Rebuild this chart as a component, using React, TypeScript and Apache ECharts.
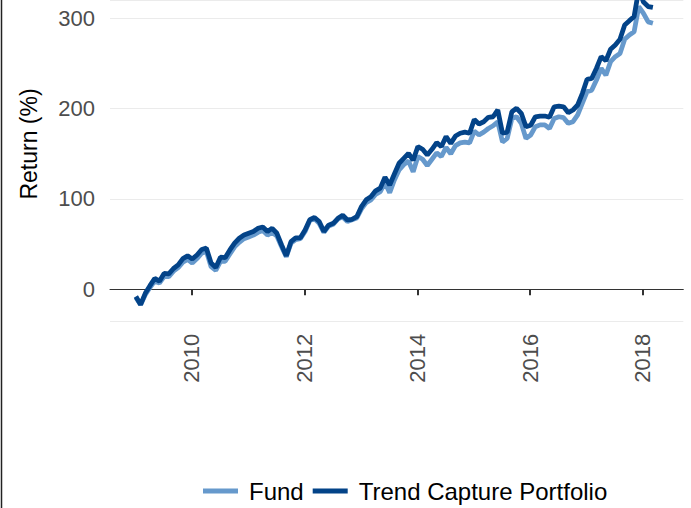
import React, { useEffect, useRef } from "react";
import * as echarts from "echarts";

const startYear = 2009.01;
const seriesNames = ["Fund", "Trend Capture Portfolio"];
const yearTicks = [2010, 2012, 2014, 2016, 2018];
const returnTicks = [0, 100, 200, 300];
const yTitle = "Return (%)";

const fund = [
  -9, -17, -6, 2, 9, 7, 14, 14, 20, 24, 30, 33, 29, 34, 40, 42, 25, 21, 31, 31,
  39, 47, 52, 56, 58, 60, 63, 65, 60, 63, 59, 47, 36, 51, 55, 56, 64, 76, 78, 73,
  63, 70, 72, 78, 80, 75, 77, 79, 89, 96, 99, 105, 108, 118, 107, 121, 132, 138, 142, 130,
  147, 144, 137, 144, 151, 147, 157, 150, 159, 162, 163, 162, 175, 171, 174, 178, 181, 185.5, 163, 167,
  189, 191, 183.7, 167, 170.8, 180, 182, 182, 178, 189, 191, 190, 183.7, 185.5, 193, 206, 218.8, 220.5, 231.7, 244.7,
  237, 252, 257.5, 261, 276.8, 281.5, 285, 313, 305.5, 296, 294.5,
];

const tcp = [
  -8, -17, -4.5, 4, 12, 9, 17.5, 17, 23, 27, 34, 37, 33.5, 38, 44, 45.5, 29, 24, 35.5, 35,
  43.5, 51, 56.5, 60, 62, 64, 67.5, 69, 64, 67.5, 62, 49, 37, 52.7, 57, 57, 65.6, 77, 79.5, 75,
  64, 71, 73, 78.6, 82, 76.7, 77.5, 80.4, 91.5, 99, 102.5, 109, 112, 124, 115.5, 127.6, 139.5, 145, 150.5, 143,
  158, 155, 148.7, 155, 162.3, 158, 169, 161.5, 169.7, 172.7, 174, 172.7, 188, 183, 185.5, 190.4, 191, 198.5, 172.7, 174,
  196.6, 200.4, 194.8, 180, 181.6, 191, 191.8, 191.8, 190.4, 202, 202.7, 202, 195.5, 198.5, 204, 217, 232.5, 233.5, 244.7, 257.5,
  253, 265.7, 270.5, 276.8, 292.6, 297.4, 301.8, 332, 318, 313, 312,
];

const dates = fund.map((_, i) => startYear + i / 12);

const FONT = "'Liberation Sans', Arial, Helvetica, sans-serif";

export default function App() {
  const ref = useRef<HTMLDivElement>(null);
  useEffect(() => {
    if (!ref.current) return;
    const chart = echarts.init(ref.current, undefined, { renderer: "svg" });
    chart.setOption({
      animation: false,
      backgroundColor: "#ffffff",
      textStyle: { fontFamily: FONT },
      grid: { left: 110, right: 7.7, top: 0, bottom: 186.3, containLabel: false },
      xAxis: {
        type: "value",
        min: 2008.551,
        max: 2018.716,
        axisLine: { show: true, lineStyle: { color: "#333333", width: 1 } },
        axisTick: { show: true, customValues: yearTicks, length: 6, lineStyle: { color: "#333333", width: 2 } },
        axisLabel: {
          customValues: yearTicks,
          rotate: 90,
          margin: 12,
          fontSize: 22,
          color: "#4d4d4d",
          fontFamily: FONT,
          formatter: (v: number) => String(Math.round(v)),
        },
        splitLine: { show: false },
      },
      yAxis: {
        type: "value",
        min: -35.9,
        max: 320.26,
        splitNumber: 4,
        axisLine: { show: false },
        axisTick: { show: false },
        axisLabel: { customValues: returnTicks, margin: 15, fontSize: 22, color: "#4d4d4d", fontFamily: FONT },
        splitLine: { show: true, lineStyle: { color: "#ebebeb", width: 1 } },
      },
      legend: {
        left: 203,
        top: 479,
        padding: 0,
        icon: "rect",
        itemWidth: 35,
        itemHeight: 5,
        itemGap: 9,
        textStyle: { fontSize: 24, color: "#000000", fontFamily: FONT, padding: [0, 0, 0, 6] },
        data: seriesNames,
      },
      graphic: [
        { type: "line", shape: { x1: 1.5, y1: 0, x2: 1.5, y2: 508 }, style: { stroke: "#222222", lineWidth: 1.5 } },
        {
          type: "text",
          x: 29,
          y: 144,
          rotation: Math.PI / 2,
          style: {
            text: yTitle,
            fontSize: 23,
            fontFamily: FONT,
            fill: "#000000",
            textAlign: "center",
            textVerticalAlign: "middle",
          },
        },
      ],
      series: [
        {
          name: seriesNames[0],
          type: "line",
          showSymbol: false,
          symbol: "none",
          clip: false,
          color: "#6699CC",
          lineStyle: { width: 4.8, color: "#6699CC" },
          data: dates.map((d, i) => [d, fund[i]]),
        },
        {
          name: seriesNames[1],
          type: "line",
          showSymbol: false,
          symbol: "none",
          clip: false,
          color: "#034388",
          lineStyle: { width: 4.8, color: "#034388" },
          data: dates.map((d, i) => [d, tcp[i]]),
        },
      ],
    });
    return () => chart.dispose();
  }, []);
  return <div ref={ref} style={{ position: "absolute", left: 0, top: 0, width: 691, height: 508 }} />;
}
